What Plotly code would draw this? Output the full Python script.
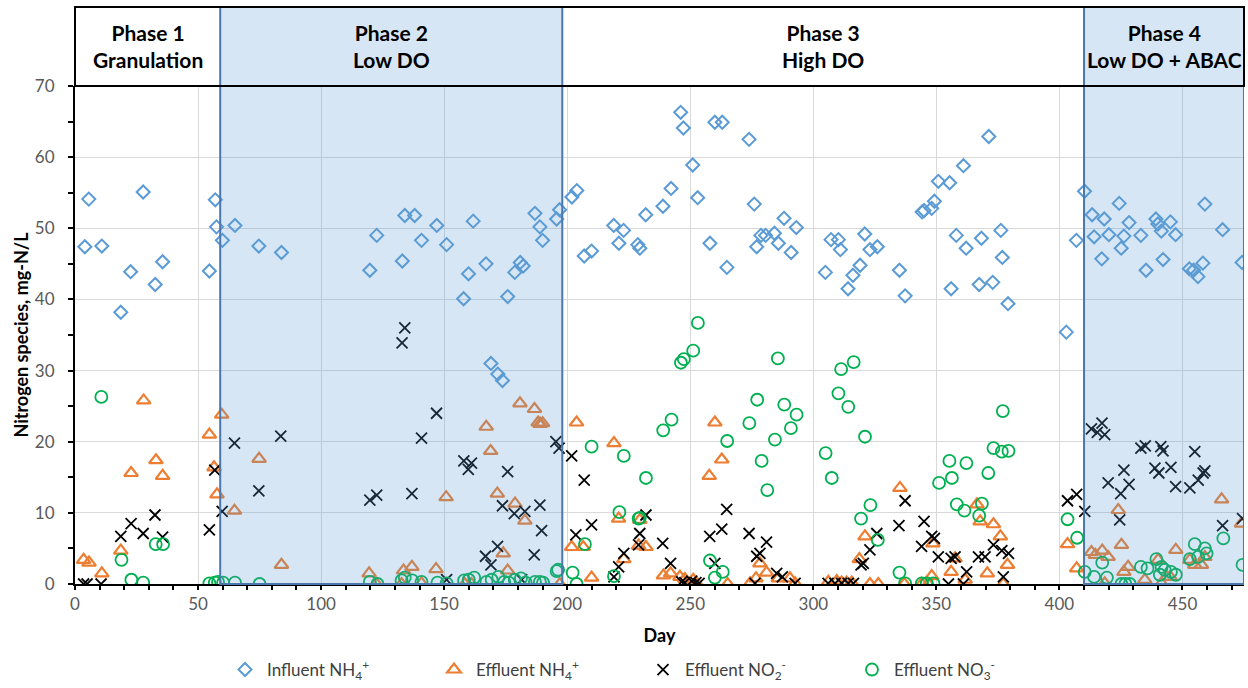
import plotly.graph_objects as go

# ---------------- data (day, mg-N/L) ----------------
influent_day = [4, 5.6, 10.9, 18.6, 22.6, 27.7, 32.6, 35.6, 54.6, 57, 57.5, 59.9, 65, 74.7, 83.9,
                119.8, 122.6, 133, 134, 138, 140.8, 147, 151, 157.9, 159.9, 161.8, 167, 169, 171.8,
                173.7, 175.8, 178.7, 180.9, 182.1, 186.9, 188.9, 190, 195.7, 196.9,
                201.9, 203.9, 206.9, 209.9, 218.9, 221, 222.9, 228.7, 229.5, 231.9, 238.9, 242.2,
                246.1, 247.2, 251, 253, 258, 260, 263, 264.9, 273.9, 276, 277, 278.7, 280.6, 284.2,
                285.8, 288.1, 291, 293.1, 304.9, 307.2, 310.2, 311, 314.1, 316.1, 319, 320.9, 323,
                326, 335, 337.3, 344.2, 345, 348.1, 349.2, 350.8, 355.4, 356, 358.1, 361, 362.1,
                367.4, 368.3, 371.3, 372.9, 376.2, 376.8, 379.1, 402.8, 406.9,
                410.2, 413.3, 414.1, 417.2, 418.2, 420.1, 424.3, 425.1, 426.2, 428.3, 433.1, 435.2,
                439.2, 440, 441.4, 442.1, 445.1, 447.2, 452.8, 454.5, 456.3, 458.3, 459.1, 466.3,
                474.2]
influent_nh4 = [47.4, 54.1, 47.5, 38.2, 43.9, 55.1, 42.1, 45.3, 44.0, 54.0, 50.2, 48.3, 50.4, 47.5, 46.6,
                44.1, 49.0, 45.4, 51.8, 51.8, 48.3, 50.4, 47.7, 40.1, 43.6, 51.0, 45.0, 31.0, 29.5,
                28.6, 40.4, 43.8, 45.2, 44.7, 52.1, 50.2, 48.3, 51.3, 52.6,
                54.4, 55.3, 46.1, 46.8, 50.4, 47.9, 49.7, 47.7, 47.2, 51.9, 53.1, 55.6,
                66.3, 64.1, 58.9, 54.3, 47.9, 64.9, 64.9, 44.5, 62.5, 53.4, 47.4, 49.0, 49.0, 49.3,
                47.9, 51.4, 46.6, 50.1, 43.8, 48.4, 48.4, 47.0, 41.5, 43.4, 44.8, 49.2, 47.0,
                47.4, 44.1, 40.5, 52.3, 52.5, 52.8, 53.8, 56.6, 56.4, 41.5, 49.0, 58.8, 47.2,
                42.1, 48.6, 62.9, 42.4, 49.7, 45.9, 39.4, 35.4, 48.3,
                55.2, 51.9, 48.8, 45.7, 51.3, 49.1, 53.5, 47.2, 48.9, 50.8, 49.0, 44.1,
                51.3, 50.6, 49.6, 45.6, 50.9, 49.1, 44.3, 44.1, 43.2, 45.1, 53.4, 49.8,
                45.2]

eff_nh4_day = [3.5, 5.7, 10.9, 18.6, 22.8, 27.9, 32.9, 35.6, 54.6, 56.5, 57.7, 59.6, 64.8, 74.8, 83.9,
               119.5, 122.5, 132.7, 133.5, 136.9, 140.8, 146.7, 150.8, 158.4, 161.1, 167.1, 168.9,
               171.6, 174, 175.8, 178.8, 180.8, 182.8, 186.7, 188.2, 189, 190, 197,
               201.8, 203.8, 206.5, 209.9, 219, 220.9, 223, 229, 229.5, 232, 239.1, 242, 245.8,
               247.8, 251.2, 252.6, 257.7, 260, 262.8, 265.2, 274.3, 276.7, 278.3, 281, 285.8,
               290.5, 292.6, 306.1, 309.5, 311.5, 313.5, 315.6, 318.7, 321, 323, 326.4, 335.2,
               337, 344, 346.7, 348.1, 348.6, 356, 357.6, 361.7, 366.5, 367.8, 370.7, 373.2, 376,
               377.2, 378.9, 403.3, 407,
               413, 414.6, 417.4, 418.4, 419.8, 423.9, 425.2, 426.2, 427.9, 434.7, 440.1, 441.5,
               443.5, 445, 447.3, 453, 455, 457.7, 459.1, 465.9, 474]
eff_nh4 = [3.4, 3.0, 1.5, 4.7, 15.6, 25.8, 17.4, 15.2, 21.0, 16.4, 12.6, 23.8, 10.3, 17.6, 2.7,
           1.5, 0, 0, 1.9, 2.4, 0.1, 2.1, 12.2, 0, 0, 22.1, 18.7,
           12.7, 4.3, 1.9, 11.3, 25.4, 8.9, 24.6, 22.7, 22.5, 22.6, 0,
           5.2, 22.7, 5.2, 0.9, 19.8, 9.2, 3.5, 5.4, 9.0, 5.2, 1.2, 1.5, 1.0,
           0.7, 0.6, 0.1, 15.2, 22.7, 17.5, 0, 0.1, 0.8, 2.9, 1.6, 0.8,
           0.8, 0.1, 0.3, 0.4, 0.2, 0.2, 0.2, 3.5, 6.7, 0, 0, 13.5,
           0, 0, 0, 1.1, 5.7, 1.7, 3.6, 0.6, 11.2, 8.8, 1.5, 8.4, 6.7,
           0, 2.7, 5.6, 2.2,
           4.5, 4.1, 4.7, 0.1, 3.8, 10.4, 5.5, 1.7, 2.4, 0.6, 3.4, 0.1,
           1.0, 1.0, 4.8, 3.4, 2.7, 2.7, 3.8, 11.9, 8.5]

eff_no2_day = [3.5, 4.9, 10.6, 18.6, 22.8, 27.7, 32.5, 35.6, 54.6, 56.8, 59.8, 64.8, 74.7, 83.6,
               119.8, 122.6, 132.9, 134, 136.9, 140.8, 146.9, 151, 158, 159.8, 161.1, 166.8, 169,
               171.7, 173.7, 175.8, 178.5, 181.5, 182.8, 186.6, 188.9, 189.6, 195.4, 196.7,
               201.8, 203.5, 206.9, 209.9, 219, 220.9, 223, 229, 229.5, 232, 238.8, 242, 246.5,
               247.8, 250.6, 252.3, 253.6, 257.9, 260, 262.8, 264.8, 273.9, 276.3, 277, 278.3, 281,
               285.1, 287.4, 292.6, 306, 308.8, 311.5, 314.2, 316.3, 319.4, 320.3, 323, 325.8,
               334.8, 337.3, 344, 345, 348.1, 349.2, 350.8, 354.9, 356, 357.6, 361, 362.3, 367.1,
               369.8, 373.2, 376.6, 377.2, 379.3, 403.3, 407,
               410.3, 413, 415.4, 417.3, 418.4, 419.8, 424.5, 424.9, 426.2, 428.3, 433.1, 434.9,
               438.8, 440.4, 441.2, 442.1, 445.3, 447.2, 453, 455, 456.4, 458.4, 459.1, 466.3,
               474.4]
eff_no2 = [0, 0, 0, 6.7, 8.5, 7.1, 9.7, 6.6, 7.6, 16.0, 10.2, 19.8, 13.1, 20.8,
           11.8, 12.5, 33.9, 36.0, 12.7, 20.5, 24.0, 0.6, 17.3, 16.1, 17.0, 3.9, 2.7,
           5.3, 11.0, 15.8, 9.9, 0.6, 10.2, 4.1, 11.1, 7.5, 20.0, 19.1,
           18.0, 6.9, 14.6, 8.3, 1.0, 2.4, 4.3, 5.5, 7.1, 9.7, 5.7, 2.9, 0.3,
           0.2, 0.4, 0.2, 0.1, 6.7, 2.9, 7.7, 10.5, 7.1, 0.1, 3.9, 4.3, 5.9,
           1.5, 1.0, 0.1, 0.1, 0.1, 0.1, 0.1, 0.1, 2.7, 2.9, 4.8, 7.1,
           8.2, 11.7, 5.3, 8.8, 6.7, 6.4, 3.8, 0, 3.6, 3.8, 0, 1.7, 3.8,
           3.8, 5.5, 4.7, 1.0, 4.3, 11.7, 12.6,
           10.2, 21.8, 21.3, 22.6, 21.0, 14.2, 9.0, 12.7, 16.0, 14.0, 19.1, 19.4,
           16.3, 15.6, 19.3, 18.7, 16.4, 13.7, 13.5, 18.6, 14.6, 15.6, 15.9, 8.2,
           9.2]

eff_no3_day = [10.7, 18.9, 22.9, 27.7, 32.8, 35.8, 54.6, 56.8, 58.1, 60.2, 65, 75,
               119.8, 122.9, 132.7, 134, 137, 140.8, 147.3, 151, 158.1, 160, 162.2, 167.2, 169.3,
               172, 174.4, 176.3, 178.7, 181.2, 183.1, 186.9, 188.9, 190.2, 195.7, 196.3,
               202.2, 203.8, 207.2, 209.9, 219, 221.2, 223, 229, 229.5, 232, 239, 242.4, 246.2,
               247.4, 251.2, 253.1, 258, 260, 263.2, 265, 274, 277.2, 279, 281.3, 284.4, 285.6,
               288.2, 290.9, 293.2, 305, 307.5, 310.2, 311.3, 314.2, 316.4, 319.4, 321, 323.2,
               326.2, 335, 337.3, 344.1, 346.1, 348.8, 351.1, 355.3, 356.3, 358.3, 361.4, 362.2,
               367.4, 368.5, 371.1, 373.2, 376.6, 377, 379.3, 403.3, 407.2,
               410.3, 414.1, 417.4, 419.3, 425.2, 426.8, 428.6, 433.1, 435.8, 439.4, 440.8, 441.5,
               442.8, 445.3, 447.3, 453, 455, 456.4, 459.1, 459.8, 466.6, 474.4]
eff_no3 = [26.3, 3.4, 0.6, 0.2, 5.6, 5.6, 0.1, 0.2, 0.3, 0.2, 0.2, 0,
           0.3, 0, 0.5, 0.9, 0.5, 0.3, 0.2, 0.1, 0.5, 0.6, 0.9, 0.3, 0.6,
           1.0, 0.3, 0.2, 0.6, 0.8, 0.2, 0.3, 0.3, 0.2, 1.8, 2.0,
           1.6, 0, 5.6, 19.3, 1.1, 10.1, 18.0, 9.2, 9.3, 14.9, 21.6, 23.1, 31.1,
           31.6, 32.8, 36.7, 3.3, 0.9, 1.7, 20.1, 22.6, 25.9, 17.3, 13.2, 20.3, 31.7,
           25.2, 21.9, 23.8, 18.4, 14.9, 26.8, 30.2, 24.9, 31.2, 9.2, 20.7, 11.1,
           6.2, 1.6, 0.1, 0.1, 0.1, 0.1, 14.2, 17.3, 14.9, 11.2, 10.3, 17.0,
           9.6, 11.3, 15.6, 19.1, 18.6, 24.3, 18.7, 9.1, 6.5,
           1.7, 1.0, 3.0, 0.9, 0, 0, 0, 2.4, 2.2, 3.5, 1.3, 2.4,
           2.0, 1.7, 1.3, 3.5, 5.6, 3.8, 5.0, 4.3, 6.4, 2.7]

phase_edges = [0, 59, 198, 410, 475]
phase_titles = ["Phase 1<br>Granulation", "Phase 2<br>Low DO",
                "Phase 3<br>High DO", "Phase 4<br>Low DO + ABAC"]
shaded_phases = [1, 3]

y_ticks = [0, 10, 20, 30, 40, 50, 60, 70]
x_ticks = [0, 50, 100, 150, 200, 250, 300, 350, 400, 450]

# ---------------- styling ----------------
FONT = "Lato, 'Open Sans', sans-serif"
TICK_GRAY = "#595959"
GRID = "#D9D9D9"
SHADE = "rgba(91,155,213,0.25)"
SHADE_EDGE = "#4A78AE"
plot_top = 0.8631  # fraction of the plotting height used by the data panel

fig = go.Figure()

series = [
    (influent_day, influent_nh4, "Influent NH<sub>4</sub><sup>+</sup>", "diamond-open", 10, "#5B9BD5", 2),
    (eff_nh4_day, eff_nh4, "Effluent NH<sub>4</sub><sup>+</sup>", "triangle-up-open", 12, "#ED7D31", 2.2),
    (eff_no2_day, eff_no2, "Effluent NO<sub>2</sub><sup>-</sup>", "x-thin-open", 11, "#000000", 1.8),
    (eff_no3_day, eff_no3, "Effluent NO<sub>3</sub><sup>-</sup>", "circle-open", 12, "#00B050", 1.8),
]
for xs, ys, name, sym, size, col, lw in series:
    fig.add_trace(go.Scatter(
        x=xs, y=ys, mode="markers", name=name,
        marker=dict(symbol=sym, size=size, color=col, line=dict(width=lw, color=col)),
    ))

# shaded phases (semi-transparent, drawn over the markers) with blue outline
for i in shaded_phases:
    fig.add_shape(type="rect", xref="x", yref="paper",
                  x0=phase_edges[i], x1=phase_edges[i + 1], y0=0, y1=1,
                  fillcolor=SHADE, line=dict(color=SHADE_EDGE, width=2), layer="above")

# phase header frame
fig.add_shape(type="rect", xref="paper", yref="paper", x0=0, x1=1, y0=plot_top, y1=1,
              line=dict(color="black", width=2), fillcolor="rgba(0,0,0,0)", layer="above")

for i, title in enumerate(phase_titles):
    fig.add_annotation(x=(phase_edges[i] + phase_edges[i + 1]) / 2, xref="x",
                       y=(plot_top + 1) / 2, yref="paper", xanchor="center", yanchor="middle",
                       text="<b>" + title + "</b>",
                       showarrow=False, font=dict(family=FONT, size=21, color="black"),
                       align="center")

fig.update_layout(
    width=1248, height=688,
    margin=dict(l=75, r=4, t=7, b=104, autoexpand=False),
    paper_bgcolor="white", plot_bgcolor="white",
    font=dict(family=FONT, color=TICK_GRAY),
    showlegend=True,
    legend=dict(orientation="h", x=0.1266, xanchor="left", y=-0.149, yanchor="middle",
                font=dict(family=FONT, size=17, color="#404040"),
                entrywidth=160, entrywidthmode="pixels", itemwidth=34),
    xaxis=dict(range=[0, 475], domain=[0, 1], anchor="y",
               tickvals=x_ticks, ticks="outside", ticklen=4, tickwidth=1.5, tickcolor="black",
               minor=dict(dtick=10, tick0=0, ticks="outside", ticklen=4, tickwidth=1.5,
                          tickcolor="black", showgrid=False),
               showgrid=True, gridcolor=GRID, gridwidth=1, zeroline=False,
               showline=True, linecolor="black", linewidth=2,
               tickfont=dict(size=17, color=TICK_GRAY),
               title=dict(text="<b>Day</b>", font=dict(size=18, color="black"), standoff=16)),
    yaxis=dict(range=[0, 70], domain=[0, plot_top], anchor="x",
               tickvals=y_ticks, ticks="outside", ticklen=5, tickwidth=1.5, tickcolor="black",
               minor=dict(dtick=5, tick0=0, ticks="outside", ticklen=5, tickwidth=1.5,
                          tickcolor="black", showgrid=False),
               showgrid=True, gridcolor=GRID, gridwidth=1, zeroline=False,
               showline=True, linecolor="black", linewidth=2,
               tickfont=dict(size=17, color=TICK_GRAY), ticklabelstandoff=10,
               title=dict(text="<b>Nitrogen species, mg-N/L</b>",
                          font=dict(size=18, color="black"), standoff=2)),
    # companion axes that draw the inner half of each crossing tick
    xaxis2=dict(range=[0, 475], overlaying="x", anchor="y", side="bottom",
                tickvals=x_ticks, ticks="inside", ticklen=4, tickwidth=1.5, tickcolor="black",
                minor=dict(dtick=10, tick0=0, ticks="inside", ticklen=4, tickwidth=1.5,
                           tickcolor="black"),
                showticklabels=False, showgrid=False, zeroline=False, showline=False),
    yaxis2=dict(range=[0, 70], overlaying="y", anchor="x", side="left",
                tickvals=y_ticks, ticks="inside", ticklen=5, tickwidth=1.5, tickcolor="black",
                minor=dict(dtick=5, tick0=0, ticks="inside", ticklen=5, tickwidth=1.5,
                           tickcolor="black"),
                showticklabels=False, showgrid=False, zeroline=False, showline=False),
)

fig.write_html("out.html")
